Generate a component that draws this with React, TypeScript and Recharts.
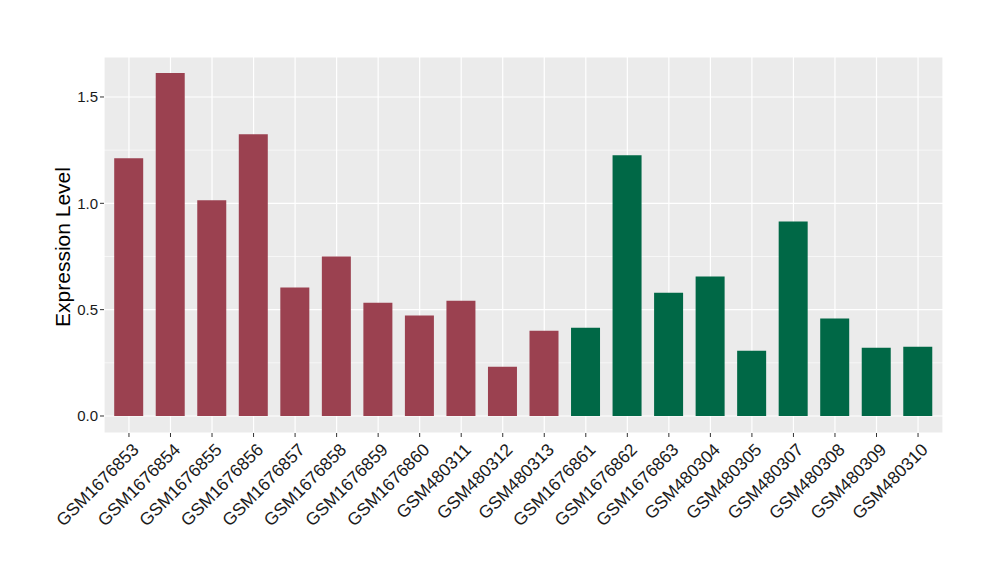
import { BarChart, Bar, XAxis, YAxis, CartesianGrid, Cell } from "recharts";

const samples = [
  "GSM1676853", "GSM1676854", "GSM1676855", "GSM1676856", "GSM1676857",
  "GSM1676858", "GSM1676859", "GSM1676860", "GSM480311", "GSM480312",
  "GSM480313", "GSM1676861", "GSM1676862", "GSM1676863", "GSM480304",
  "GSM480305", "GSM480307", "GSM480308", "GSM480309", "GSM480310",
];
const values = [
  1.212, 1.613, 1.014, 1.325, 0.604, 0.75, 0.533, 0.472, 0.542, 0.231,
  0.401, 0.415, 1.226, 0.58, 0.656, 0.307, 0.915, 0.458, 0.321, 0.325,
];
const groups = [
  "A", "A", "A", "A", "A", "A", "A", "A", "A", "A",
  "A", "B", "B", "B", "B", "B", "B", "B", "B", "B",
];
const majorTicks = [0, 0.5, 1, 1.5];
const minorTicks = [0.25, 0.75, 1.25];

const groupColors: Record<string, string> = { A: "#9B4150", B: "#006846" };
const font = "'Liberation Sans', Arial, sans-serif";

const data = samples.map((name, i) => ({ name, value: values[i], group: groups[i] }));

function XTick(props: any) {
  const { x, y, payload } = props;
  return (
    <g transform={`translate(${x + 2},${y + 3})`}>
      <text
        x={0}
        y={0}
        dy={12.5}
        transform="rotate(-45)"
        textAnchor="end"
        fontSize={17.5}
        fontFamily={font}
        fill="#1a1a1a"
      >
        {payload.value}
      </text>
    </g>
  );
}

function YTitle(props: any) {
  const vb = props.viewBox;
  const cy = vb.y + vb.height / 2 + 2;
  const tx = 69.5;
  return (
    <text
      x={tx}
      y={cy}
      transform={`rotate(-90, ${tx}, ${cy})`}
      textAnchor="middle"
      fontSize={21}
      fontFamily={font}
      fill="#000"
    >
      Expression Level
    </text>
  );
}

export default function App() {
  return (
    <div style={{ position: "absolute", left: 0, top: 0, background: "#fff" }}>
      <BarChart
        width={1000}
        height={580}
        data={data}
        margin={{ top: 57, right: 57, bottom: 0, left: 44 }}
        barSize={29}
      >
        <CartesianGrid
          fill="#EBEBEB"
          stroke="#FFFFFF"
          strokeWidth={0.6}
          vertical={false}
          horizontalValues={minorTicks}
        />
        <CartesianGrid stroke="#FFFFFF" strokeWidth={1.2} />
        <XAxis
          dataKey="name"
          interval={0}
          height={147}
          padding={{ left: 4.2, right: 4.2 }}
          axisLine={false}
          tickLine={{ stroke: "#333333" }}
          tickSize={4}
          tick={<XTick />}
        />
        <YAxis
          width={60}
          type="number"
          domain={[-0.08, 1.688]}
          ticks={majorTicks}
          allowDataOverflow
          axisLine={false}
          tickLine={{ stroke: "#333333" }}
          tickSize={4}
          tickFormatter={(v: number) => v.toFixed(1)}
          tick={{ fontSize: 15, fontFamily: font, fill: "#1a1a1a" }}
          label={{ content: <YTitle /> }}
        />
        <Bar dataKey="value" isAnimationActive={false}>
          {data.map((d) => (
            <Cell key={d.name} fill={groupColors[d.group]} />
          ))}
        </Bar>
      </BarChart>
    </div>
  );
}
